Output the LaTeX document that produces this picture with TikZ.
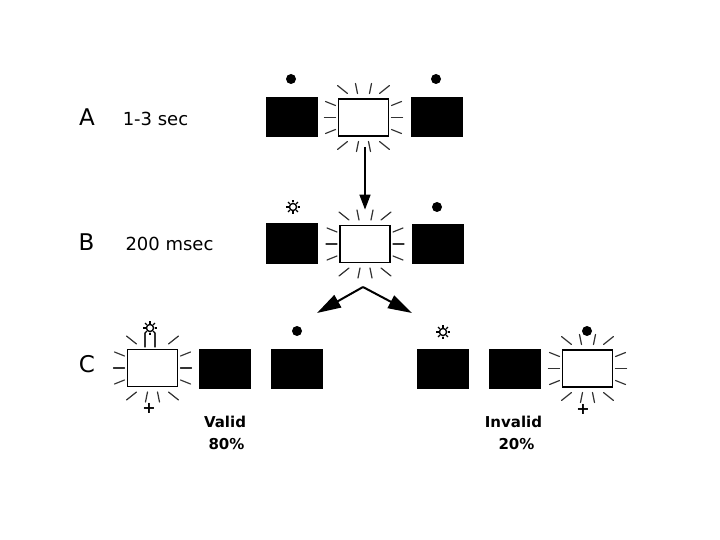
\documentclass[tikz,border=0pt]{standalone}
\usepackage{fontspec}
\setmainfont{DejaVu Sans}
\usetikzlibrary{calc,arrows.meta}
\newcommand\glowrays[2]{%
  \foreach \sx/\sy/\ex/\ey in #2 {\draw[ray] ($(#1)+(\sx,\sy)$) -- ($(#1)+(\ex,\ey)$);}}
\newcommand\sunmark[1]{%
  \draw[line width=1.4pt] (#1) circle[radius=3.6];
  \foreach \a in {0,45,...,315} {\draw[line width=1.1pt] ($(#1)+(\a:4.5)$) -- ($(#1)+(\a:7)$);}}
\def\raysall{-16/-24/-26/-32, -6/-24/-8/-34, 6/-24/8/-34, 16/-24/26/-32, -16/24/-26/32, -5/24/-7/34, 5/24/7/34, 16/24/26/32, -28/-12/-38/-16, -28/0/-39/0, -28/12/-38/16, 28/-12/38/-16, 28/0/39/0, 28/12/38/16}
\def\raysnotop{-16/-24/-26/-32, 16/-24/26/-32, -16/24/-26/32, -5/24/-7/34, 5/24/7/34, 16/24/26/32, -28/-12/-38/-16, -28/0/-39/0, -28/12/-38/16, 28/-12/38/-16, 28/0/39/0, 28/12/38/16}
\begin{document}
\begin{tikzpicture}[x=1pt,y=-1pt,
 blk/.style={fill=black,minimum width=52pt,minimum height=40pt,inner sep=0pt},
 wht/.style={draw=black,line width=1.8pt,fill=white,minimum width=50pt,minimum height=37pt,inner sep=0pt},
 ray/.style={line width=1.2pt,draw=black!80,line cap=round},
 dotm/.style={circle,fill=black,minimum size=10pt,inner sep=0pt},
 lbl/.style={font=\fontsize{23}{23}\selectfont,inner sep=0pt},
 tim/.style={font=\fontsize{18}{18}\selectfont,inner sep=0pt},
 res/.style={font=\bfseries\fontsize{15}{15}\selectfont,inner sep=0pt,align=center},
 plus/.style={font=\bfseries\fontsize{16}{16}\selectfont,inner sep=0pt},
 arr/.style={line width=1.6pt,-{Triangle[length=15pt,width=11pt]}},
 farr/.style={line width=2pt,-{Triangle[length=24pt,width=14pt]}}
]
\useasboundingbox (0,0) rectangle (720,540);

% labels
\node[lbl] (la) at (87,117) {A};
\node[tim] (ta) at (155.5,119) {1-3 sec};
\node[lbl] (lb) at (86.5,242) {B};
\node[tim] (tb) at (169.5,243.5) {200 msec};
\node[lbl] (lc) at (87,364) {C};

% row A
\node[blk] (aL) at (292,117.5) {};
\node[wht] (aM) at (363.5,117.5) {};
\node[blk] (aR) at (436.5,117.5) {};
\glowrays{aM}{\raysall}
\node[dotm] (aLd) at (291,79) {};
\node[dotm] (aRd) at (436,79) {};

% row B
\node[blk] (bL) at (292,243.5) {};
\node[wht] (bM) at (365,244) {};
\node[blk] (bR) at (437.5,244) {};
\glowrays{bM}{\raysall}
\coordinate (bLs) at (293,207);
\sunmark{bLs}
\node[dotm] (bRd) at (437,207) {};

\draw[arr] ($(aM.south)+(1.5,10)$) -- ($(bM.north)+(0,-15)$);

% forked arrows
\coordinate (apex) at (363,287);
\coordinate (tl) at (317,313);
\coordinate (tr) at (412,313);
\draw[farr] (apex) -- (tl);
\draw[farr] (apex) -- (tr);

% row C left (valid)
\node[wht] (c1) at (152.5,368) {};
\node[blk] (c2) at (225,368.5) {};
\node[blk] (c3) at (297,368.5) {};
\glowrays{c1}{\raysnotop}
\draw[ray] ($(c1)+(-7.5,-21)$) -- ($(c1)+(-7.5,-35)$);
\draw[ray] ($(c1)+(2.5,-21)$) -- ($(c1)+(2.5,-35)$);
\coordinate (c1s) at (150,328);
\sunmark{c1s}
\node[dotm] (c3d) at (297,331) {};
\node[plus] (p1) at (149,408) {+};
\node[res] (v1) at (225,421.5) {Valid};
\node[res] (v2) at (226.5,444.5) {80\%};

% row C right (invalid)
\node[blk] (c4) at (442.5,369) {};
\node[blk] (c5) at (514.5,369) {};
\node[wht] (c6) at (587.5,368.5) {};
\glowrays{c6}{\raysall}
\coordinate (c4s) at (443,332);
\sunmark{c4s}
\node[dotm] (c6d) at (587,331) {};
\node[plus] (p2) at (583,409) {+};
\node[res] (i1) at (513.5,421.5) {Invalid};
\node[res] (i2) at (516.5,444.5) {20\%};
\end{tikzpicture}
\end{document}
